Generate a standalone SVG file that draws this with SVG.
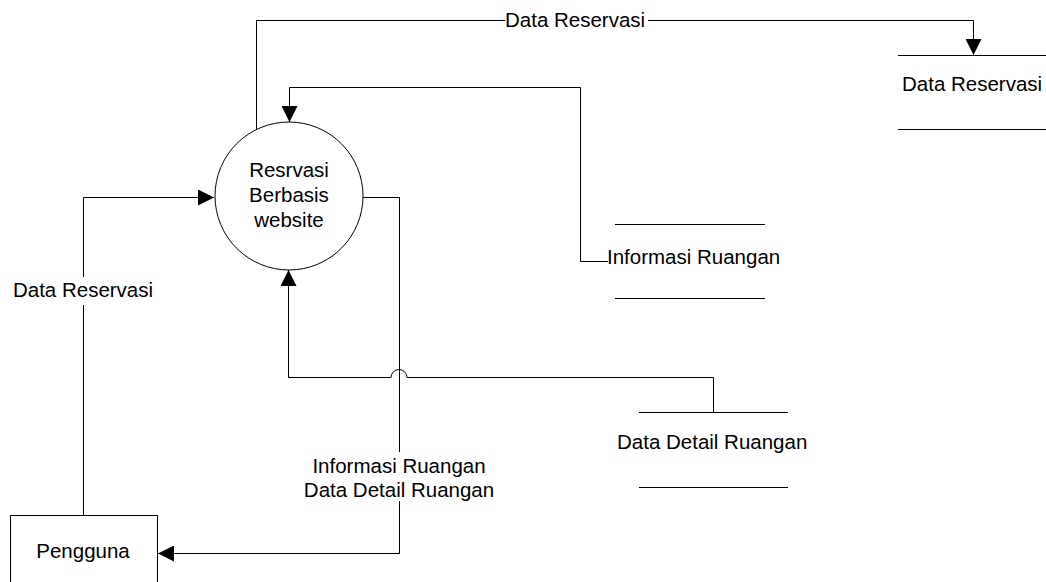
<svg xmlns="http://www.w3.org/2000/svg" width="1046" height="582" viewBox="0 0 1046 582">
  <style>
    .ln { fill: none; stroke: #000; stroke-width: 1; }
    .store { stroke: #000; stroke-width: 1; }
    .txt { font-family: "Liberation Sans", Arial, sans-serif; font-size: 20.5px; fill: #000; }
    .mid { text-anchor: middle; }
  </style>
  <defs>
    <marker id="arrow" markerUnits="userSpaceOnUse" markerWidth="16" markerHeight="16" viewBox="0 0 14 14" refX="14" refY="7" orient="auto">
      <path d="M0,0 L14,7 L0,14 Z" fill="#000"/>
    </marker>
  </defs>

  <rect width="1046" height="582" fill="#fff"/>

  <!-- connectors -->
  <g id="connectors">
    <!-- process -> Data Reservasi store -->
    <path class="ln" d="M256.5,130 V20.5 H505"/>
    <path class="ln" d="M648,20.5 H973.5 V55" marker-end="url(#arrow)"/>
    <text class="txt" x="505" y="27">Data Reservasi</text>

    <!-- Informasi Ruangan store -> process -->
    <path class="ln" d="M608,261.5 H580.5 V87.5 H289.5 V122" marker-end="url(#arrow)"/>

    <!-- Data Detail Ruangan store -> process (with line hop) -->
    <path class="ln" d="M713.5,412 V377.5 H407 A8,8 0 0 0 391,377.5 H288.5 V270" marker-end="url(#arrow)"/>

    <!-- process -> Pengguna -->
    <path class="ln" d="M363,197.5 H399.5 V452"/>
    <path class="ln" d="M399.5,501 V553.5 H158" marker-end="url(#arrow)"/>
    <text class="txt mid" x="399" y="473">Informasi Ruangan</text>
    <text class="txt mid" x="399" y="497">Data Detail Ruangan</text>

    <!-- Pengguna -> process -->
    <path class="ln" d="M83.5,515 V305"/>
    <path class="ln" d="M83.5,277 V197.5 H214" marker-end="url(#arrow)"/>
    <text class="txt mid" x="83" y="297">Data Reservasi</text>
  </g>

  <!-- process -->
  <g id="process">
    <circle cx="289" cy="196" r="74" fill="#fff" stroke="#000" stroke-width="1"/>
    <text class="txt mid" x="289" y="177">Resrvasi</text>
    <text class="txt mid" x="289" y="202">Berbasis</text>
    <text class="txt mid" x="289" y="227">website</text>
  </g>

  <!-- data store: Data Reservasi -->
  <g id="store-data-reservasi">
    <line class="store" x1="898" y1="55.5" x2="1046" y2="55.5"/>
    <line class="store" x1="898" y1="129.5" x2="1046" y2="129.5"/>
    <text class="txt" x="902" y="91">Data Reservasi</text>
  </g>

  <!-- data store: Informasi Ruangan -->
  <g id="store-informasi-ruangan">
    <line class="store" x1="615" y1="224.5" x2="765" y2="224.5"/>
    <line class="store" x1="615" y1="298.5" x2="765" y2="298.5"/>
    <text class="txt" x="607" y="264">Informasi Ruangan</text>
  </g>

  <!-- data store: Data Detail Ruangan -->
  <g id="store-data-detail-ruangan">
    <line class="store" x1="639" y1="412.5" x2="788" y2="412.5"/>
    <line class="store" x1="639" y1="487.5" x2="788" y2="487.5"/>
    <text class="txt" x="617" y="449">Data Detail Ruangan</text>
  </g>

  <!-- external entity -->
  <g id="pengguna">
    <rect x="10.5" y="515.5" width="147" height="80" fill="#fff" stroke="#000" stroke-width="1"/>
    <text class="txt mid" x="83" y="558">Pengguna</text>
  </g>
</svg>
